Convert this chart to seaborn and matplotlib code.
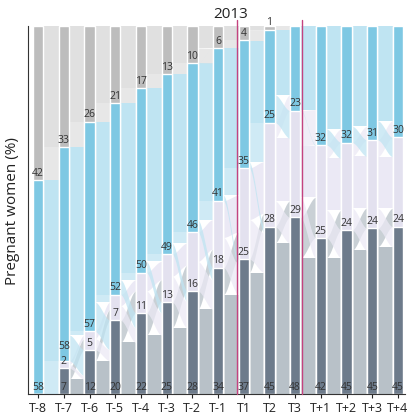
import numpy as np
import pandas as pd
import seaborn as sns
import matplotlib
matplotlib.use("Agg")
import matplotlib.pyplot as plt

# Datos del gráfico (porcentajes por periodo)
periods = ["T-8", "T-7", "T-6", "T-5", "T-4", "T-3", "T-2", "T-1",
           "T1", "T2", "T3", "T+1", "T+2", "T+3", "T+4"]
slate = [0, 7, 12, 20, 22, 25, 28, 34, 37, 45, 48, 42, 45, 45, 45]
lav = [0, 2, 5, 7, 11, 13, 16, 18, 25, 28, 29, 25, 24, 24, 24]
blue = [58, 58, 57, 52, 50, 49, 46, 41, 35, 25, 23, 32, 32, 31, 30]
grey = [42, 33, 26, 21, 17, 13, 10, 6, 4, 1, 0, 0, 0, 0, 0]

# Flujos que se mantienen en la misma categoría entre periodos (estimados)
slate_stay = [0, 4, 9, 14, 16, 18, 23, 27, 33, 41, 37, 37, 39, 40]
lav_stay = [0, 1, 2, 3, 5, 6, 8, 10, 14, 17, 14, 14, 14, 14]
blue_stay = [49, 50, 47, 45, 44, 41, 37, 30, 20, 17, 17, 22, 22, 22]
grey_stay = [33, 26, 21, 17, 13, 10, 6, 4, 1, 0, 0, 0, 0, 0]

dark_cols = ["#6d7b8b", "#e3e1ef", "#7ec8e3", "#bdbdbd"]
light_cols = ["#b8c1c8", "#ebe9f5", "#bfe4f2", "#e0e0e0"]

sns.set_style("ticks")
plt.rcParams["font.family"] = ["Open Sans", "DejaVu Sans"]

fig = plt.figure(figsize=(4.08, 4.14), dpi=100)
ax = fig.add_axes([0.069, 0.046, 0.924, 0.889])

vals = np.array([slate, lav, blue, grey], dtype=float)
norm = vals / vals.sum(axis=0) * 100
stays = np.array([slate_stay, lav_stay, blue_stay, grey_stay], dtype=float)
n = len(periods)
bw = 0.4


def transitions(a, b, s):
    F = np.zeros((4, 4))
    for i in range(4):
        F[i, i] = min(s[i], a[i], b[i])
    r = a - np.diag(F)
    q = b - np.diag(F)
    if q.sum() > 0:
        q = q * r.sum() / q.sum()
    for i in range(4):
        for j in sorted(range(4), key=lambda j: abs(j - i)):
            if j == i:
                continue
            f = min(r[i], q[j])
            if f > 0:
                F[i, j] += f
                r[i] -= f
                q[j] -= f
    for i in range(4):
        F[i, i] += r[i]
    return F


# Dibujar flujos entre columnas
xs = np.linspace(0, 1, 40)
t = 3 * xs ** 2 - 2 * xs ** 3
for k in range(n - 1):
    a, b = norm[:, k], norm[:, k + 1]
    F = transitions(a, b, stays[:, k])
    x0, x1 = k + bw / 2, k + 1 - bw / 2
    xx = x0 + (x1 - x0) * xs
    left_base = np.concatenate([[0], np.cumsum(a)[:-1]])
    right_base = np.concatenate([[0], np.cumsum(b)[:-1]])
    ribbons = []
    for i in range(4):
        off = left_base[i]
        for j in range(4):
            if F[i, j] <= 0:
                continue
            r_off = right_base[j] + F[:i, j].sum()
            ribbons.append((i == j, i, off, r_off, F[i, j]))
            off += F[i, j]
    ribbons.sort(key=lambda r: not r[0])
    for same, i, lo, ro, h in ribbons:
        bot = lo + (ro - lo) * t
        ax.fill_between(xx, bot, bot + h, color=light_cols[i],
                        alpha=1.0 if same else 0.75, linewidth=0, zorder=0.5)

# Barras apiladas
cum = np.cumsum(norm, axis=0)
for c in range(3, -1, -1):
    sns.barplot(x=periods, y=cum[c], color=dark_cols[c], width=bw,
                edgecolor="white", linewidth=1, errorbar=None, ax=ax,
                saturation=1)

# Etiquetas de valores (evitando solapes)
for k in range(n):
    last = -10
    for c in range(4):
        if vals[c, k] > 0:
            base = cum[c, k] - norm[c, k] + 0.6
            base = max(base, last + 4.2)
            last = base
            ax.text(k, base, str(int(vals[c, k])), ha="center",
                    va="bottom", fontsize=7.5, color="#333333", zorder=5)

# Periodo 2013
for xl in [7.73, 10.27]:
    ax.plot([xl, xl], [0, 101.5], color="#c4437f", lw=1, clip_on=False, zorder=6)
ax.text(7.47, 101.3, "2013", ha="center", va="bottom", fontsize=11,
        color="#222222")

ax.set_xlim(-0.39, 14.28)
ax.set_ylim(0, 100)
ax.set_yticks([])
ax.set_ylabel("Pregnant women (%)", fontsize=11, color="#222222", labelpad=6)
ax.set_xlabel("")
ax.tick_params(axis="x", labelsize=9, length=3, colors="#222222", pad=2)
sns.despine(ax=ax, top=True, right=True)
ax.spines["left"].set_color("#333333")
ax.spines["bottom"].set_color("#333333")

plt.savefig("out.png", dpi=100)
